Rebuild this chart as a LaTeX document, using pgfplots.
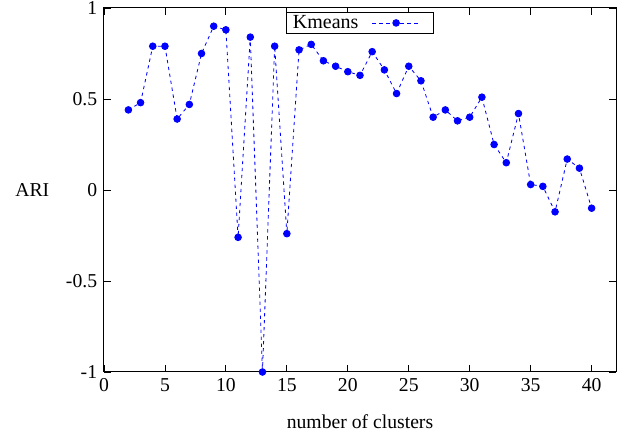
\documentclass[border=0pt]{standalone}
\usepackage{pgfplots}
\pgfplotsset{compat=1.18}
\usepackage{fontspec}
\setmainfont{Liberation Serif}
\begin{document}
\fontsize{11.8}{14}\selectfont
\begin{tikzpicture}
\useasboundingbox (-62.4pt,-38.4pt) rectangle (311.4pt,223.2pt);
\begin{axis}[
  at={(0,0)}, anchor=south west,
  scale only axis, width=307.2pt, height=218.4pt,
  xmin=0, xmax=42, ymin=-1, ymax=1,
  xtick={0,5,...,40}, xticklabels={0,5,10,15,20,25,30,35,40},
  ytick={-1,-0.5,0,0.5,1}, yticklabels={-1,-0.5,0,0.5,1},
  tick align=inside, major tick length=4pt,
  tick style={black, line width=0.5pt},
  axis line style={line width=0.6pt},
  every axis x label/.style={at={(axis description cs:0.5,0)}, anchor=center, yshift=-30pt},
  every axis y label/.style={at={(axis description cs:0,0.5)}, anchor=center, xshift=-43pt},
  xlabel={number of clusters}, ylabel={ARI},
  legend style={at={(0.5,0.989)}, anchor=north, legend plot pos=right, draw=black, line width=0.5pt,
    inner xsep=1pt, inner ysep=0pt, nodes={inner ysep=1.5pt, inner xsep=3pt},
    font=\fontsize{12}{14}\selectfont},
  legend image code/.code={\draw[mark repeat=2,mark phase=2] plot coordinates {(0cm,0cm) (0.5cm,0cm) (1cm,0cm)};
    \path (-0.18cm,0cm) (1.25cm,0cm);},
]
\addplot[blue, dash pattern=on 2pt off 2.2pt, line width=0.5pt, mark=*, mark size=2pt, mark options={solid, fill=blue}]
coordinates {
(2,0.44) (3,0.48) (4,0.79) (5,0.79) (6,0.39) (7,0.47) (8,0.75) (9,0.90) (10,0.88)
(11,-0.26) (12,0.84) (13,-1.0) (14,0.79) (15,-0.24) (16,0.77) (17,0.80) (18,0.71)
(19,0.68) (20,0.65) (21,0.63) (22,0.76) (23,0.66) (24,0.53) (25,0.68) (26,0.60)
(27,0.40) (28,0.44) (29,0.38) (30,0.40) (31,0.51) (32,0.25) (33,0.15) (34,0.42)
(35,0.03) (36,0.02) (37,-0.12) (38,0.17) (39,0.12) (40,-0.10)
};
\addlegendentry{Kmeans}
\end{axis}
\end{tikzpicture}
\end{document}
